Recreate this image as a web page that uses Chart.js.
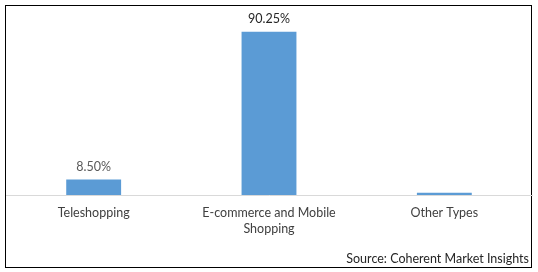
<!DOCTYPE html>
<html>
<head>
<meta charset="utf-8">
<script src="https://cdn.jsdelivr.net/npm/chart.js@4.4.0/dist/chart.umd.min.js"></script>
<style>
  html, body { margin: 0; padding: 0; background: #fff; }
  #wrap { width: 538px; height: 272px; position: relative; }
</style>
</head>
<body>
<div id="wrap"><canvas id="chart"></canvas></div>
<script>
const categories = ["Teleshopping", ["E-commerce and Mobile", "Shopping"], "Other Types"];
const shares = [8.5, 90.25, 1.25];
const valueLabels = ["8.50%", "90.25%", ""];
const sourceText = "Source: Coherent Market Insights";

const FONT = "Lato, 'Open Sans', sans-serif";

// frame round the whole picture + source note
const framePlugin = {
  id: "frame",
  beforeDraw(chart) {
    const ctx = chart.ctx;
    ctx.save();
    ctx.fillStyle = "#fff";
    ctx.fillRect(0, 0, chart.width, chart.height);
    ctx.strokeStyle = "#000";
    ctx.lineWidth = 1;
    ctx.strokeRect(5.5, 5.5, 526, 262);
    ctx.font = "12.5px " + FONT;
    ctx.fillStyle = "#262626";
    ctx.textAlign = "right";
    ctx.textBaseline = "middle";
    ctx.fillText(sourceText, 529, 259);
    ctx.restore();
  }
};

// percentage over each bar
const valueLabelPlugin = {
  id: "valueLabels",
  afterDatasetsDraw(chart) {
    const ctx = chart.ctx;
    const meta = chart.getDatasetMeta(0);
    ctx.save();
    ctx.font = "12.5px " + FONT;
    ctx.textAlign = "center";
    ctx.textBaseline = "middle";
    meta.data.forEach((bar, i) => {
      if (!valueLabels[i]) return;
      ctx.fillStyle = i === 1 ? "#262626" : "#595959";
      ctx.fillText(valueLabels[i], bar.x, bar.y - 13);
    });
    ctx.restore();
  }
};

new Chart(document.getElementById("chart"), {
  type: "bar",
  data: {
    labels: categories,
    datasets: [{
      data: shares,
      backgroundColor: "#5b9bd5",
      borderWidth: 0,
      categoryPercentage: 1,
      barPercentage: 0.313
    }]
  },
  options: {
    responsive: true,
    maintainAspectRatio: false,
    animation: false,
    layout: { padding: { left: 6, right: 6, top: 14, bottom: 25 } },
    plugins: {
      legend: { display: false },
      tooltip: { enabled: false }
    },
    scales: {
      x: {
        grid: { display: false, drawTicks: false },
        border: { color: "#d9d9d9", width: 1 },
        ticks: {
          color: "#404040",
          padding: 10,
          maxRotation: 0,
          autoSkip: false,
          font: { family: FONT, size: 12.5, lineHeight: 1.28 }
        }
      },
      y: {
        display: false,
        min: 0,
        max: 100
      }
    }
  },
  plugins: [framePlugin, valueLabelPlugin]
});
</script>
</body>
</html>
